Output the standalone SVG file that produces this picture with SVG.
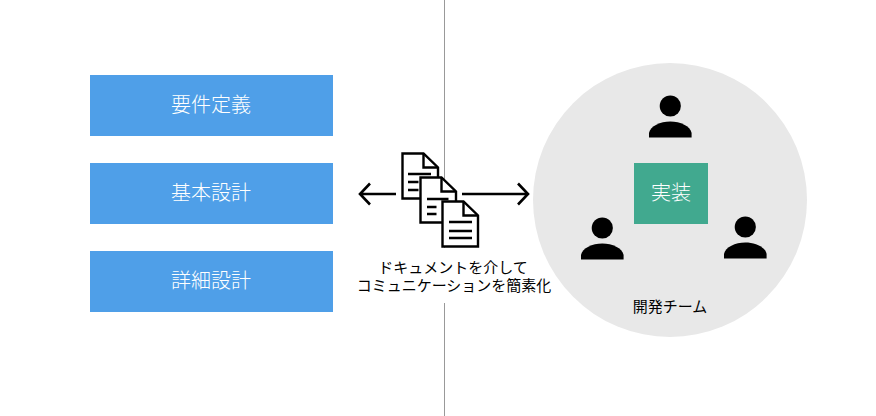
<svg xmlns="http://www.w3.org/2000/svg" width="876" height="416" viewBox="0 0 876 416">
<style>
.t{font-family:"Noto Sans CJK JP","Liberation Sans",sans-serif;font-weight:300}
.b{fill:#4f9fe8}
.w{font-size:20px;fill:#fff;text-anchor:middle}
.k{font-size:15px;fill:#000;text-anchor:middle;font-weight:400}
.d{fill:#fff;stroke:#000;stroke-width:2.400;stroke-linejoin:miter}
.l{fill:none;stroke:#000;stroke-width:2.400}
.a{fill:none;stroke:#000;stroke-width:2.600}
</style>
<defs>
<g id="doc">
<path class="d" d="M1 1H22L36.500 15V46H1Z"/>
<path class="l" d="M22 1V15H36.500"/>
</g>
<g id="person">
<circle cx="0" cy="0" r="10.600" fill="#000"/>
<path d="M-21.300 31.500V27C-20 20-10 15.500 0 15.500S20 20 21.300 27V31.500Z" fill="#000"/>
</g>
</defs>
<rect width="876" height="416" fill="#fff"/>
<g id="connectors">
<path d="M444.500 0V248M444.500 303V416" stroke="#999" stroke-width="1" fill="none"/>
<path class="a" d="M396 194H360.500M370 183.500L360 194L370 204.500"/>
<path class="a" d="M462 194H527.500M518 183.500L528 194L518 204.500"/>
</g>
<g id="n1"><rect class="b" x="90" y="75" width="243" height="61"/><text class="t w" x="211" y="112">要件定義</text></g>
<g id="n2"><rect class="b" x="90" y="163" width="243" height="61"/><text class="t w" x="211" y="200">基本設計</text></g>
<g id="n3"><rect class="b" x="90" y="251" width="243" height="61"/><text class="t w" x="211" y="288">詳細設計</text></g>
<g id="docs">
<g transform="translate(401.500,152.500)"><use href="#doc"/><path class="l" d="M6.500 21.500H29.500M6.500 29.500H17M6.500 37.500H17"/></g>
<g transform="translate(419.500,176.500)"><use href="#doc"/><path class="l" d="M7.500 22.500H29M7.500 30.500H17M7.500 37.500H17"/></g>
<g transform="translate(441.500,200.500)"><use href="#doc"/><path class="l" d="M7.500 21.500H30.500M7.500 30.500H30.500M7.500 37.500H30.500"/></g>
</g>
<g id="caption">
<text class="t k" x="453" y="273">ドキュメントを介して</text>
<text class="t k" x="454" y="291">コミュニケーションを簡素化</text>
</g>
<g id="team">
<circle cx="670" cy="200" r="137" fill="#e8e8e8"/>
<text class="t k" x="670" y="312">開発チーム</text>
</g>
<g id="impl"><rect x="634" y="163" width="74" height="61" fill="#41a98f"/><text class="t w" x="671" y="200">実装</text></g>
<g id="p1"><use href="#person" x="670.300" y="106"/></g>
<g id="p2"><use href="#person" x="602.300" y="228"/></g>
<g id="p3"><use href="#person" x="745.300" y="227"/></g>
</svg>
